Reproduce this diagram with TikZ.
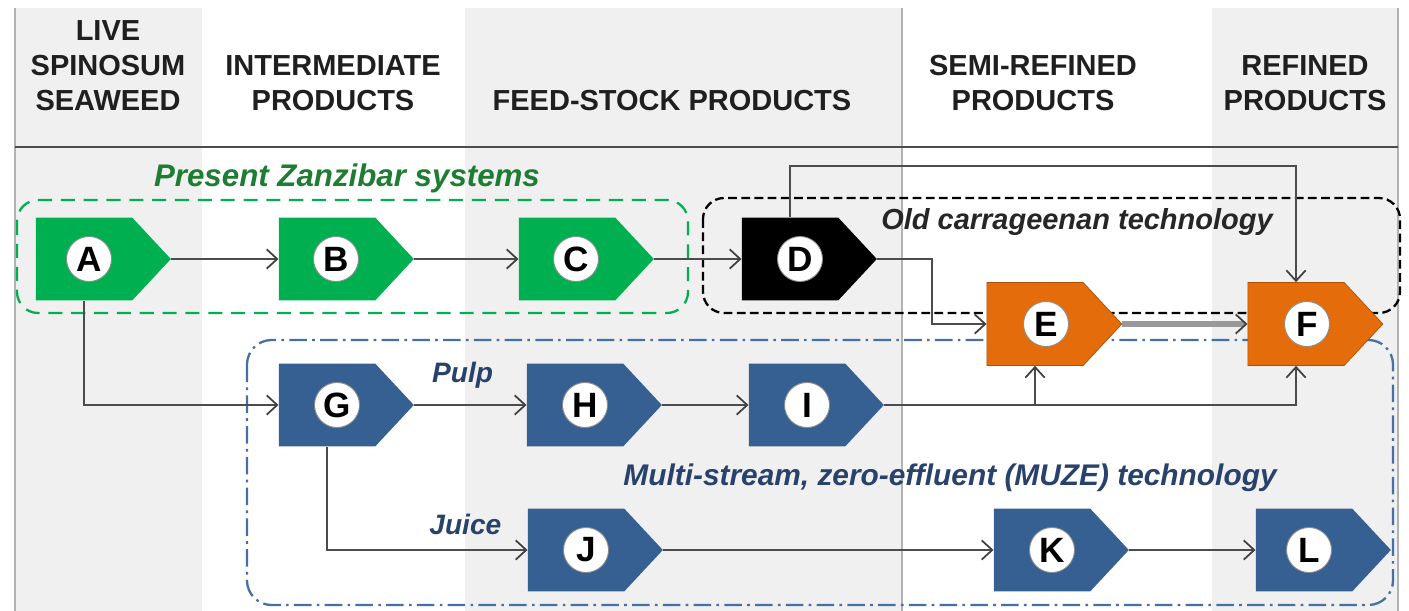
\documentclass[tikz,border=0pt]{standalone}
\usepackage{fontspec}
\setmainfont{Liberation Sans}
\usetikzlibrary{shapes.symbols,arrows.meta,calc,positioning}

\definecolor{stepgreen}{RGB}{0,176,80}
\definecolor{steporange}{RGB}{228,108,10}
\definecolor{stepblue}{RGB}{54,96,146}
\definecolor{boxblue}{RGB}{70,112,165}
\definecolor{labgreen}{RGB}{30,125,50}
\definecolor{labblue}{RGB}{40,66,108}
\definecolor{colgrey}{RGB}{240,240,240}

\begin{document}
\begin{tikzpicture}[x=0.02cm,y=-0.02cm,
  stage/.style={signal, signal to=east, signal pointer angle=94,
    minimum width=2.7cm, minimum height=1.66cm, inner sep=0pt},
  letter/.style={circle, fill=white, draw=black!45, line width=0.5pt, inner sep=0pt,
    minimum size=0.9cm, font=\fontsize{20}{20}\selectfont\bfseries},
  flow/.style={draw=black!70, line width=1.1pt,
    -{Straight Barb[length=6pt,width=11pt,line width=1pt,color=black!75]}},
  head/.style={font=\fontsize{16.5}{20}\selectfont\bfseries, align=center,
    anchor=south, inner sep=0pt, text=black!88},
  grouplabel/.style={font=\fontsize{16.5}{20}\selectfont\bfseries\itshape, inner sep=0pt},
  streamlabel/.style={font=\fontsize{16}{20}\selectfont\bfseries\itshape, inner sep=0pt, text=labblue}]
\useasboundingbox (0,0) rectangle (1409,611);

% columns
\fill[colgrey] (15,8) rectangle (202,611);
\fill[colgrey] (465,8) rectangle (902,611);
\fill[colgrey] (1212,8) rectangle (1398,611);
\draw[black!30, line width=1pt] (15,8) -- (15,611);
\draw[black!30, line width=1pt] (902,8) -- (902,611);
\draw[black!30, line width=1pt] (1398,8) -- (1398,611);
\draw[black!70, line width=1.2pt] (15,147) -- (1398,147);

\node[head] (live) at (108,111) {LIVE\\SPINOSUM\\SEAWEED};
\node[head] (inter) at (333,111) {INTERMEDIATE\\PRODUCTS};
\node[head] (feed) at (672,111) {FEED-STOCK PRODUCTS};
\node[head] (semi) at (1033,111) {SEMI-REFINED\\PRODUCTS};
\node[head] (refined) at (1305,111) {REFINED\\PRODUCTS};

% technology groups
\draw[stepgreen, line width=1.3pt, dash pattern=on 8pt off 5pt, rounded corners=12pt]
  (17,200) rectangle (688,313);
\draw[black, line width=1.3pt, dash pattern=on 5pt off 2.5pt, rounded corners=12pt]
  (703,198) rectangle (1400,313);
\draw[boxblue, line width=1.3pt, dash pattern=on 10pt off 3pt on 1.5pt off 3pt, rounded corners=14pt]
  (247,340) rectangle (1393,605);

\node[grouplabel, text=labgreen, font=\fontsize{17.8}{20}\selectfont\bfseries\itshape] (zanzibar) at (347,178) {Present Zanzibar systems};
\node[grouplabel, text=black!85] (old) at (1077,222) {Old carrageenan technology};
\node[grouplabel, text=labblue, font=\fontsize{17}{20}\selectfont\bfseries\itshape] (muze) at (950,478) {Multi-stream, zero-effluent (MUZE) technology};

% stages
\node[stage, fill=stepgreen] (A) at (84,259) {};
\node[stage, fill=stepgreen] (B) at (327,259) {};
\node[stage, fill=stepgreen] (C) at (567,259) {};
\node[stage, fill=black] (D) at (790,259) {};
\node[stage, fill=steporange, draw=steporange!75!black] (E) at (1035,324) {};
\node[stage, fill=steporange, draw=steporange!75!black] (F) at (1296,324) {};
\node[stage, fill=stepblue] (G) at (327,405) {};
\node[stage, fill=stepblue] (H) at (575,405) {};
\node[stage, fill=stepblue] (I) at (797,405) {};
\node[stage, fill=stepblue] (J) at (576,550) {};
\node[stage, fill=stepblue] (K) at (1042,550) {};
\node[stage, fill=stepblue] (L) at (1304,550) {};

\node[letter] (a) at ([xshift=0.1cm]A.center) {A};
\node[letter] (b) at ([xshift=0.18cm]B.center) {B};
\node[letter] (c) at ([xshift=0.18cm]C.center) {C};
\node[letter] (d) at ([xshift=0.2cm]D.center) {D};
\node[letter] (e) at ([xshift=0.22cm]E.center) {E};
\node[letter] (f) at ([xshift=0.22cm]F.center) {F};
\node[letter] (g) at ([xshift=0.2cm]G.center) {G};
\node[letter] (h) at ([xshift=0.2cm]H.center) {H};
\node[letter] (i) at ([xshift=0.2cm]I.center) {I};
\node[letter] (j) at ([xshift=0.2cm]J.center) {J};
\node[letter] (k) at ([xshift=0.2cm]K.center) {K};
\node[letter] (l) at ([xshift=0.1cm]L.center) {L};

% flows
\draw[flow] (A) -- (B);
\draw[flow] (B) -- (C);
\draw[flow] (C) -- (D);
\draw[flow] (D.east) -| ($(D.east)!.5!(E.west)$) |- (E.west);
\draw[flow] (D.north) -- ++(0,-51) -| (F.north);
\draw[flow, draw=black!40, line width=3pt,
  -{Straight Barb[length=6pt,width=11pt,line width=1pt,color=black!75]}] (E) -- (F);
\draw[flow] (A.south) |- (G.west);
\draw[flow] (G) -- node[streamlabel, pos=0.43, above=9pt] {Pulp} (H);
\draw[flow] (H) -- (I);
\draw[flow] (I.east) -| (F.south);
\draw[flow] (E.south |- I.east) -- (E.south);
\draw[flow] (G.south) |- node[streamlabel, pos=0.845, above=8pt] {Juice} (J.west);
\draw[flow] (J) -- (K);
\draw[flow] (K) -- (L);
\end{tikzpicture}
\end{document}
